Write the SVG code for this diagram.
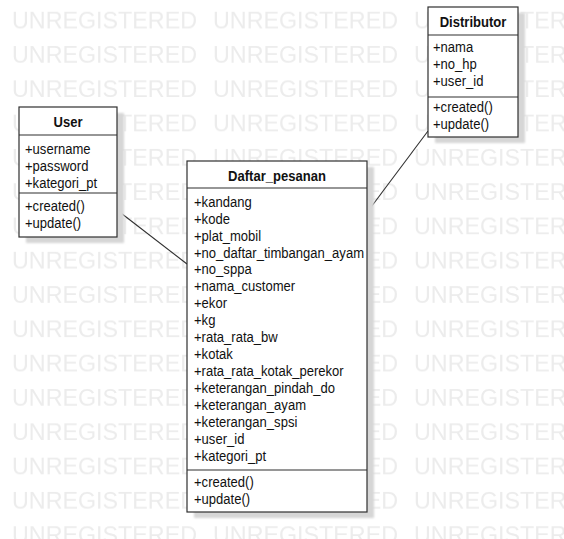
<svg xmlns="http://www.w3.org/2000/svg" width="564" height="539" viewBox="0 0 564 539">
  <style>
    .wm { font-family: "Liberation Sans", Arial, sans-serif; font-size: 23px; fill: #ececec; }
    .box { fill: #ffffff; stroke: #2f2f2f; stroke-width: 1.2; }
    .shadow { fill: #d6d6d6; filter: url(#blur); }
    .div { stroke: #2f2f2f; stroke-width: 1.2; }
    .name { font-family: "Liberation Sans", Arial, sans-serif; font-size: 15px; font-weight: bold; fill: #111; text-anchor: middle; }
    .item { font-family: "Liberation Sans", Arial, sans-serif; font-size: 15px; fill: #111; }
    .conn { stroke: #2f2f2f; stroke-width: 1.1; fill: none; }
  </style>
  <defs>
    <filter id="blur" x="-10%" y="-10%" width="120%" height="120%">
      <feGaussianBlur stdDeviation="1"/>
    </filter>
    <pattern id="watermark" patternUnits="userSpaceOnUse" x="0" y="0" width="201" height="34.3">
      <text class="wm" x="12" y="28.5" textLength="185" lengthAdjust="spacingAndGlyphs">UNREGISTERED</text>
    </pattern>
  </defs>

  <rect x="0" y="0" width="564" height="539" fill="#ffffff"/>
  <rect x="0" y="0" width="564" height="539" fill="url(#watermark)"/>

  <g id="connectors">
    <line class="conn" x1="117" y1="210" x2="187" y2="264"/>
    <line class="conn" x1="428" y1="131" x2="367" y2="212.5"/>
  </g>

  <g id="User">
    <rect class="shadow" x="26" y="113" width="98" height="130"/>
    <rect class="box" x="19" y="107" width="98" height="130"/>
    <line class="div" x1="19" y1="135" x2="117" y2="135"/>
    <line class="div" x1="19" y1="193" x2="117" y2="193"/>
    <text class="name" transform="translate(68 127) scale(0.87 1)">User</text>
    <text class="item" transform="translate(25 153.5) scale(0.87 1)">+username</text>
    <text class="item" transform="translate(25 170.5) scale(0.87 1)">+password</text>
    <text class="item" transform="translate(25 187.5) scale(0.87 1)">+kategori_pt</text>
    <text class="item" transform="translate(25 211) scale(0.87 1)">+created()</text>
    <text class="item" transform="translate(25 228) scale(0.87 1)">+update()</text>
  </g>

  <g id="Daftar_pesanan">
    <rect class="shadow" x="194" y="167" width="180" height="351"/>
    <rect class="box" x="187" y="161" width="180" height="351"/>
    <line class="div" x1="187" y1="188" x2="367" y2="188"/>
    <line class="div" x1="187" y1="470" x2="367" y2="470"/>
    <text class="name" transform="translate(277 181) scale(0.87 1)">Daftar_pesanan</text>
    <text class="item" transform="translate(194 206.7) scale(0.87 1)">+kandang</text>
    <text class="item" transform="translate(194 223.6) scale(0.87 1)">+kode</text>
    <text class="item" transform="translate(194 240.6) scale(0.87 1)">+plat_mobil</text>
    <text class="item" transform="translate(194 257.5) scale(0.87 1)">+no_daftar_timbangan_ayam</text>
    <text class="item" transform="translate(194 274.4) scale(0.87 1)">+no_sppa</text>
    <text class="item" transform="translate(194 291.4) scale(0.87 1)">+nama_customer</text>
    <text class="item" transform="translate(194 308.3) scale(0.87 1)">+ekor</text>
    <text class="item" transform="translate(194 325.2) scale(0.87 1)">+kg</text>
    <text class="item" transform="translate(194 342.1) scale(0.87 1)">+rata_rata_bw</text>
    <text class="item" transform="translate(194 359.1) scale(0.87 1)">+kotak</text>
    <text class="item" transform="translate(194 376) scale(0.87 1)">+rata_rata_kotak_perekor</text>
    <text class="item" transform="translate(194 392.9) scale(0.87 1)">+keterangan_pindah_do</text>
    <text class="item" transform="translate(194 409.9) scale(0.87 1)">+keterangan_ayam</text>
    <text class="item" transform="translate(194 426.8) scale(0.87 1)">+keterangan_spsi</text>
    <text class="item" transform="translate(194 443.7) scale(0.87 1)">+user_id</text>
    <text class="item" transform="translate(194 460.7) scale(0.87 1)">+kategori_pt</text>
    <text class="item" transform="translate(194 487) scale(0.87 1)">+created()</text>
    <text class="item" transform="translate(194 504) scale(0.87 1)">+update()</text>
  </g>

  <g id="Distributor">
    <rect class="shadow" x="435" y="13" width="90" height="130"/>
    <rect class="box" x="428" y="7" width="90" height="130"/>
    <line class="div" x1="428" y1="35" x2="518" y2="35"/>
    <line class="div" x1="428" y1="97" x2="518" y2="97"/>
    <text class="name" transform="translate(473 27) scale(0.87 1)">Distributor</text>
    <text class="item" transform="translate(433 52) scale(0.87 1)">+nama</text>
    <text class="item" transform="translate(433 69) scale(0.87 1)">+no_hp</text>
    <text class="item" transform="translate(433 86) scale(0.87 1)">+user_id</text>
    <text class="item" transform="translate(433 112) scale(0.87 1)">+created()</text>
    <text class="item" transform="translate(433 129) scale(0.87 1)">+update()</text>
  </g>
</svg>
